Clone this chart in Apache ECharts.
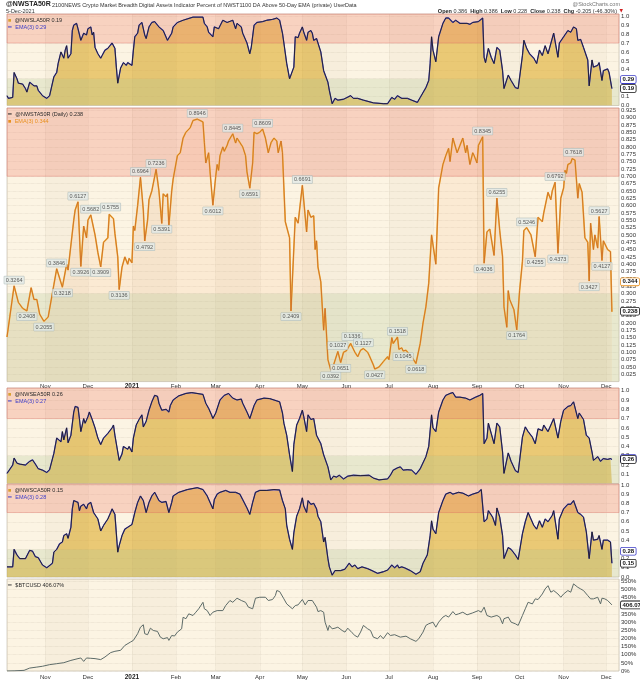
<!DOCTYPE html>
<html><head><meta charset="utf-8">
<script src="https://cdn.jsdelivr.net/npm/echarts@6/dist/echarts.min.js"></script>
<style>html,body{margin:0;padding:0;background:#fff}#c{width:640px;height:681px}</style>
</head><body><div id="c"></div>
<script>
// ---------------- DATA ----------------
const MONTHS = ['Jan','Feb','Mar','Apr','May','Jun','Jul','Aug','Sep','Oct','Nov','Dec'];
const X_MIN = '2020-10-05', X_MAX = '2021-12-10';
const SHADED_MONTHS = [['2020-11-01','2020-12-01'],['2021-01-01','2021-02-01'],['2021-03-01','2021-04-01'],['2021-05-01','2021-06-01'],['2021-07-01','2021-08-01'],['2021-09-01','2021-10-01'],['2021-11-01','2021-12-01']];

// @NWSLA50R
const la50 = [['2020-10-05',0.11],['2020-10-06',0.08],['2020-10-09',0.09],['2020-10-10',0.37],['2020-10-12',0.30],['2020-10-13',0.25],['2020-10-16',0.24],['2020-10-18',0.19],['2020-10-19',0.15],['2020-10-21',0.26],['2020-10-22',0.28],['2020-10-24',0.22],['2020-10-26',0.22],['2020-10-27',0.17],['2020-10-30',0.11],['2020-11-02',0.08],['2020-11-04',0.11],['2020-11-07',0.32],['2020-11-09',0.37],['2020-11-10',0.47],['2020-11-12',0.60],['2020-11-14',0.53],['2020-11-15',0.62],['2020-11-16',0.67],['2020-11-17',0.53],['2020-11-19',0.58],['2020-11-20',0.84],['2020-11-21',0.90],['2020-11-23',0.92],['2020-11-24',0.86],['2020-11-26',0.73],['2020-11-27',0.77],['2020-11-28',0.81],['2020-11-30',0.79],['2020-12-01',0.86],['2020-12-03',0.88],['2020-12-04',0.79],['2020-12-05',0.82],['2020-12-06',0.65],['2020-12-08',0.58],['2020-12-10',0.53],['2020-12-11',0.56],['2020-12-13',0.62],['2020-12-15',0.64],['2020-12-18',0.70],['2020-12-20',0.64],['2020-12-21',0.43],['2020-12-22',0.25],['2020-12-24',0.42],['2020-12-26',0.48],['2020-12-28',0.45],['2020-12-29',0.48],['2021-01-01',0.45],['2021-01-02',0.62],['2021-01-03',0.77],['2021-01-05',0.81],['2021-01-06',0.90],['2021-01-08',0.93],['2021-01-10',0.79],['2021-01-11',0.75],['2021-01-13',0.88],['2021-01-15',0.93],['2021-01-17',0.94],['2021-01-20',0.88],['2021-01-23',0.84],['2021-01-26',0.73],['2021-01-27',0.71],['2021-01-29',0.81],['2021-01-30',0.88],['2021-02-02',0.93],['2021-02-06',0.955],['2021-02-09',0.97],['2021-02-13',0.99],['2021-02-20',0.99],['2021-02-21',0.92],['2021-02-23',0.88],['2021-02-24',0.82],['2021-02-27',0.77],['2021-02-28',0.88],['2021-03-01',0.90],['2021-03-03',0.86],['2021-03-06',0.955],['2021-03-09',0.93],['2021-03-13',0.955],['2021-03-15',0.86],['2021-03-16',0.92],['2021-03-19',0.88],['2021-03-20',0.81],['2021-03-23',0.70],['2021-03-25',0.58],['2021-03-26',0.65],['2021-03-28',0.90],['2021-03-30',0.93],['2021-04-03',0.94],['2021-04-06',0.955],['2021-04-10',0.965],['2021-04-13',0.98],['2021-04-15',0.955],['2021-04-17',0.81],['2021-04-18',0.70],['2021-04-20',0.47],['2021-04-22',0.30],['2021-04-23',0.28],['2021-04-25',0.43],['2021-04-26',0.77],['2021-04-28',0.76],['2021-04-29',0.81],['2021-05-01',0.88],['2021-05-02',0.82],['2021-05-04',0.73],['2021-05-05',0.82],['2021-05-07',0.84],['2021-05-08',0.81],['2021-05-09',0.73],['2021-05-11',0.75],['2021-05-12',0.70],['2021-05-14',0.60],['2021-05-16',0.39],['2021-05-19',0.26],['2021-05-20',0.17],['2021-05-22',0.02],['2021-05-24',0.08],['2021-05-26',0.06],['2021-05-30',0.07],['2021-06-04',0.11],['2021-06-06',0.08],['2021-06-09',0.08],['2021-06-13',0.06],['2021-06-20',0.03],['2021-06-27',0.02],['2021-06-30',0.02],['2021-07-03',0.09],['2021-07-05',0.07],['2021-07-07',0.11],['2021-07-10',0.08],['2021-07-14',0.08],['2021-07-17',0.06],['2021-07-21',0.035],['2021-07-23',0.09],['2021-07-27',0.20],['2021-07-29',0.28],['2021-07-30',0.47],['2021-07-31',0.77],['2021-08-01',0.62],['2021-08-03',0.49],['2021-08-05',0.77],['2021-08-08',0.92],['2021-08-10',0.98],['2021-08-12',0.98],['2021-08-15',0.93],['2021-08-17',0.955],['2021-08-20',0.92],['2021-08-25',0.92],['2021-08-27',0.91],['2021-08-29',0.93],['2021-09-02',0.94],['2021-09-05',0.98],['2021-09-06',0.54],['2021-09-07',0.48],['2021-09-09',0.64],['2021-09-11',0.54],['2021-09-13',0.47],['2021-09-15',0.65],['2021-09-17',0.62],['2021-09-19',0.39],['2021-09-20',0.19],['2021-09-23',0.34],['2021-09-25',0.28],['2021-09-28',0.20],['2021-09-30',0.19],['2021-10-03',0.56],['2021-10-04',0.73],['2021-10-06',0.64],['2021-10-08',0.58],['2021-10-11',0.53],['2021-10-13',0.47],['2021-10-15',0.62],['2021-10-17',0.56],['2021-10-19',0.67],['2021-10-21',0.58],['2021-10-25',0.81],['2021-10-28',0.54],['2021-10-29',0.70],['2021-11-01',0.77],['2021-11-04',0.84],['2021-11-06',0.82],['2021-11-08',0.88],['2021-11-10',0.86],['2021-11-11',0.73],['2021-11-13',0.74],['2021-11-15',0.65],['2021-11-18',0.51],['2021-11-19',0.22],['2021-11-21',0.51],['2021-11-22',0.43],['2021-11-25',0.45],['2021-11-26',0.48],['2021-11-28',0.28],['2021-11-29',0.39],['2021-12-02',0.41],['2021-12-03',0.37],['2021-12-04',0.38],['2021-12-05',0.19]];

// @NWSTA50R (main)
const ta50 = [['2020-10-05',0.152],['2020-10-10',0.3264],['2020-10-13',0.27],['2020-10-16',0.25],['2020-10-19',0.2408],['2020-10-22',0.32],['2020-10-24',0.28],['2020-10-26',0.28],['2020-10-28',0.23],['2020-10-31',0.2055],['2020-11-03',0.22],['2020-11-07',0.33],['2020-11-09',0.3846],['2020-11-13',0.3218],['2020-11-16',0.40],['2020-11-17',0.38],['2020-11-21',0.55],['2020-11-22',0.585],['2020-11-24',0.6127],['2020-11-26',0.3926],['2020-11-28',0.53],['2020-11-30',0.49],['2020-12-01',0.55],['2020-12-03',0.5682],['2020-12-06',0.50],['2020-12-08',0.44],['2020-12-10',0.3909],['2020-12-12',0.475],['2020-12-15',0.49],['2020-12-16',0.57],['2020-12-17',0.5755],['2020-12-19',0.555],['2020-12-20',0.505],['2020-12-22',0.425],['2020-12-23',0.3136],['2020-12-25',0.39],['2020-12-27',0.425],['2020-12-29',0.40],['2020-12-30',0.42],['2021-01-01',0.405],['2021-01-02',0.53],['2021-01-03',0.515],['2021-01-05',0.60],['2021-01-07',0.6964],['2021-01-09',0.585],['2021-01-10',0.4792],['2021-01-12',0.55],['2021-01-13',0.62],['2021-01-15',0.65],['2021-01-18',0.7236],['2021-01-20',0.65],['2021-01-22',0.5391],['2021-01-23',0.64],['2021-01-24',0.645],['2021-01-25',0.63],['2021-01-26',0.64],['2021-01-27',0.53],['2021-01-29',0.65],['2021-01-30',0.69],['2021-02-02',0.77],['2021-02-04',0.78],['2021-02-06',0.83],['2021-02-08',0.85],['2021-02-09',0.845],['2021-02-11',0.865],['2021-02-13',0.89],['2021-02-16',0.8946],['2021-02-18',0.89],['2021-02-20',0.885],['2021-02-21',0.815],['2021-02-22',0.745],['2021-02-24',0.78],['2021-02-25',0.715],['2021-02-27',0.6012],['2021-03-01',0.70],['2021-03-02',0.74],['2021-03-03',0.72],['2021-03-04',0.77],['2021-03-06',0.80],['2021-03-07',0.785],['2021-03-09',0.805],['2021-03-10',0.82],['2021-03-11',0.815],['2021-03-13',0.8445],['2021-03-15',0.813],['2021-03-16',0.83],['2021-03-18',0.815],['2021-03-20',0.80],['2021-03-22',0.77],['2021-03-23',0.715],['2021-03-25',0.6591],['2021-03-27',0.745],['2021-03-28',0.85],['2021-03-30',0.845],['2021-04-01',0.85],['2021-04-03',0.8609],['2021-04-05',0.83],['2021-04-06',0.825],['2021-04-07',0.78],['2021-04-09',0.815],['2021-04-11',0.83],['2021-04-13',0.82],['2021-04-14',0.78],['2021-04-16',0.82],['2021-04-17',0.78],['2021-04-18',0.66],['2021-04-19',0.545],['2021-04-20',0.54],['2021-04-22',0.49],['2021-04-23',0.2409],['2021-04-26',0.56],['2021-04-28',0.54],['2021-05-01',0.6691],['2021-05-04',0.51],['2021-05-05',0.585],['2021-05-07',0.56],['2021-05-09',0.565],['2021-05-10',0.45],['2021-05-11',0.48],['2021-05-12',0.39],['2021-05-14',0.34],['2021-05-16',0.175],['2021-05-17',0.25],['2021-05-19',0.075],['2021-05-21',0.0392],['2021-05-23',0.057],['2021-05-26',0.1027],['2021-05-28',0.0651],['2021-05-30',0.10],['2021-06-01',0.105],['2021-06-04',0.13],['2021-06-05',0.1336],['2021-06-07',0.10],['2021-06-09',0.085],['2021-06-11',0.107],['2021-06-13',0.1127],['2021-06-16',0.10],['2021-06-17',0.09],['2021-06-18',0.095],['2021-06-20',0.057],['2021-06-21',0.0427],['2021-06-24',0.05],['2021-06-27',0.068],['2021-06-30',0.085],['2021-07-01',0.075],['2021-07-03',0.15],['2021-07-04',0.13],['2021-07-07',0.1518],['2021-07-08',0.11],['2021-07-10',0.115],['2021-07-11',0.1045],['2021-07-13',0.107],['2021-07-15',0.095],['2021-07-17',0.085],['2021-07-20',0.0618],['2021-07-23',0.13],['2021-07-25',0.20],['2021-07-27',0.255],['2021-07-29',0.335],['2021-07-31',0.50],['2021-08-03',0.40],['2021-08-05',0.66],['2021-08-08',0.74],['2021-08-10',0.77],['2021-08-12',0.795],['2021-08-13',0.75],['2021-08-15',0.83],['2021-08-16',0.83],['2021-08-18',0.78],['2021-08-20',0.805],['2021-08-22',0.83],['2021-08-24',0.78],['2021-08-25',0.805],['2021-08-27',0.74],['2021-08-29',0.78],['2021-08-30',0.77],['2021-09-01',0.745],['2021-09-02',0.805],['2021-09-03',0.81],['2021-09-05',0.8345],['2021-09-06',0.4036],['2021-09-08',0.51],['2021-09-10',0.52],['2021-09-13',0.43],['2021-09-15',0.6255],['2021-09-17',0.515],['2021-09-19',0.425],['2021-09-20',0.255],['2021-09-22',0.185],['2021-09-23',0.31],['2021-09-24',0.28],['2021-09-27',0.245],['2021-09-29',0.1764],['2021-10-01',0.31],['2021-10-03',0.41],['2021-10-04',0.515],['2021-10-05',0.51],['2021-10-06',0.5246],['2021-10-09',0.50],['2021-10-12',0.4255],['2021-10-14',0.56],['2021-10-17',0.545],['2021-10-18',0.575],['2021-10-21',0.645],['2021-10-23',0.62],['2021-10-24',0.65],['2021-10-26',0.6792],['2021-10-28',0.4373],['2021-10-30',0.625],['2021-11-01',0.66],['2021-11-02',0.72],['2021-11-03',0.71],['2021-11-04',0.74],['2021-11-06',0.745],['2021-11-07',0.76],['2021-11-08',0.7618],['2021-11-09',0.755],['2021-11-11',0.625],['2021-11-12',0.675],['2021-11-14',0.645],['2021-11-15',0.65],['2021-11-16',0.49],['2021-11-18',0.475],['2021-11-19',0.3427],['2021-11-20',0.54],['2021-11-22',0.45],['2021-11-23',0.50],['2021-11-25',0.455],['2021-11-26',0.5627],['2021-11-28',0.4127],['2021-11-29',0.48],['2021-12-02',0.45],['2021-12-03',0.445],['2021-12-04',0.443],['2021-12-05',0.238]];

const taPeaks = [['2020-10-10',0.3264],['2020-11-09',0.3846],['2020-11-24',0.6127],['2020-12-03',0.5682],['2020-12-17',0.5755],['2021-01-07',0.6964],['2021-01-18',0.7236],['2021-02-16',0.8946],['2021-03-13',0.8445],['2021-04-03',0.8609],['2021-05-01',0.6691],['2021-05-26',0.1027],['2021-06-05',0.1336],['2021-06-13',0.1127],['2021-07-07',0.1518],['2021-09-05',0.8345],['2021-09-15',0.6255],['2021-10-06',0.5246],['2021-10-26',0.6792],['2021-11-08',0.7618],['2021-11-26',0.5627]];
const taTroughs = [['2020-10-19',0.2408],['2020-10-31',0.2055],['2020-11-13',0.3218],['2020-11-26',0.3926],['2020-12-10',0.3909],['2020-12-23',0.3136],['2021-01-10',0.4792],['2021-01-22',0.5391],['2021-02-27',0.6012],['2021-03-25',0.6591],['2021-04-23',0.2409],['2021-05-21',0.0392],['2021-05-28',0.0651],['2021-06-21',0.0427],['2021-07-11',0.1045],['2021-07-20',0.0618],['2021-09-06',0.4036],['2021-09-29',0.1764],['2021-10-12',0.4255],['2021-10-28',0.4373],['2021-11-19',0.3427],['2021-11-28',0.4127]];

// @NWSEA50R
const ea50 = [['2020-10-05',0.11],['2020-10-06',0.09],['2020-10-09',0.20],['2020-10-10',0.275],['2020-10-12',0.22],['2020-10-14',0.21],['2020-10-18',0.20],['2020-10-19',0.18],['2020-10-21',0.24],['2020-10-23',0.255],['2020-10-25',0.21],['2020-10-27',0.16],['2020-10-30',0.145],['2020-11-02',0.12],['2020-11-04',0.15],['2020-11-07',0.325],['2020-11-08',0.33],['2020-11-09',0.49],['2020-11-12',0.45],['2020-11-13',0.56],['2020-11-14',0.47],['2020-11-16',0.60],['2020-11-17',0.44],['2020-11-19',0.52],['2020-11-21',0.77],['2020-11-22',0.83],['2020-11-24',0.82],['2020-11-25',0.70],['2020-11-26',0.56],['2020-11-28',0.70],['2020-11-29',0.65],['2020-12-01',0.72],['2020-12-02',0.77],['2020-12-04',0.69],['2020-12-06',0.60],['2020-12-08',0.49],['2020-12-10',0.42],['2020-12-12',0.49],['2020-12-15',0.54],['2020-12-18',0.60],['2020-12-19',0.63],['2020-12-20',0.52],['2020-12-22',0.34],['2020-12-23',0.25],['2020-12-25',0.32],['2020-12-26',0.40],['2020-12-29',0.37],['2020-12-30',0.40],['2021-01-01',0.34],['2021-01-02',0.49],['2021-01-04',0.63],['2021-01-06',0.69],['2021-01-08',0.74],['2021-01-09',0.61],['2021-01-11',0.67],['2021-01-13',0.79],['2021-01-15',0.88],['2021-01-17',0.95],['2021-01-19',0.94],['2021-01-20',0.865],['2021-01-22',0.79],['2021-01-25',0.80],['2021-01-27',0.77],['2021-01-28',0.84],['2021-01-30',0.90],['2021-02-03',0.945],['2021-02-08',0.97],['2021-02-12',0.98],['2021-02-20',0.96],['2021-02-22',0.865],['2021-02-24',0.81],['2021-02-26',0.74],['2021-02-27',0.70],['2021-03-01',0.76],['2021-03-02',0.78],['2021-03-04',0.90],['2021-03-07',0.95],['2021-03-10',0.97],['2021-03-13',0.92],['2021-03-16',0.90],['2021-03-19',0.91],['2021-03-20',0.865],['2021-03-23',0.77],['2021-03-25',0.70],['2021-03-28',0.84],['2021-03-30',0.90],['2021-04-04',0.92],['2021-04-08',0.915],['2021-04-13',0.89],['2021-04-15',0.88],['2021-04-17',0.76],['2021-04-18',0.65],['2021-04-20',0.52],['2021-04-22',0.31],['2021-04-24',0.13],['2021-04-25',0.42],['2021-04-27',0.63],['2021-04-29',0.70],['2021-05-01',0.79],['2021-05-02',0.72],['2021-05-04',0.56],['2021-05-05',0.74],['2021-05-07',0.69],['2021-05-09',0.70],['2021-05-10',0.61],['2021-05-11',0.52],['2021-05-14',0.43],['2021-05-16',0.31],['2021-05-17',0.30],['2021-05-19',0.18],['2021-05-20',0.11],['2021-05-21',0.04],['2021-05-23',0.08],['2021-05-25',0.07],['2021-05-27',0.09],['2021-05-30',0.05],['2021-06-02',0.08],['2021-06-06',0.09],['2021-06-11',0.085],['2021-06-17',0.09],['2021-06-20',0.06],['2021-06-24',0.04],['2021-06-30',0.05],['2021-07-02',0.09],['2021-07-04',0.145],['2021-07-07',0.17],['2021-07-09',0.18],['2021-07-11',0.145],['2021-07-14',0.15],['2021-07-17',0.145],['2021-07-20',0.10],['2021-07-23',0.16],['2021-07-27',0.29],['2021-07-29',0.40],['2021-07-31',0.74],['2021-08-01',0.60],['2021-08-03',0.56],['2021-08-05',0.77],['2021-08-08',0.90],['2021-08-10',0.95],['2021-08-13',0.97],['2021-08-15',0.98],['2021-08-17',0.93],['2021-08-20',0.93],['2021-08-24',0.92],['2021-08-27',0.90],['2021-08-31',0.93],['2021-09-03',0.95],['2021-09-05',0.97],['2021-09-06',0.43],['2021-09-08',0.49],['2021-09-09',0.65],['2021-09-11',0.54],['2021-09-13',0.43],['2021-09-15',0.65],['2021-09-17',0.61],['2021-09-19',0.34],['2021-09-20',0.11],['2021-09-23',0.33],['2021-09-25',0.24],['2021-09-28',0.14],['2021-09-30',0.12],['2021-10-03',0.50],['2021-10-05',0.61],['2021-10-07',0.56],['2021-10-10',0.50],['2021-10-12',0.43],['2021-10-14',0.59],['2021-10-17',0.57],['2021-10-18',0.63],['2021-10-21',0.56],['2021-10-25',0.70],['2021-10-28',0.49],['2021-10-30',0.67],['2021-11-01',0.79],['2021-11-04',0.83],['2021-11-06',0.84],['2021-11-08',0.88],['2021-11-11',0.70],['2021-11-12',0.76],['2021-11-15',0.69],['2021-11-17',0.52],['2021-11-19',0.49],['2021-11-21',0.34],['2021-11-22',0.25],['2021-11-25',0.29],['2021-11-27',0.24],['2021-11-29',0.27],['2021-12-02',0.26],['2021-12-04',0.27],['2021-12-05',0.26]];

// @NWSCA50R
const ca50 = [['2020-10-05',0.11],['2020-10-09',0.11],['2020-10-10',0.30],['2020-10-12',0.24],['2020-10-14',0.20],['2020-10-18',0.20],['2020-10-19',0.18],['2020-10-21',0.29],['2020-10-23',0.28],['2020-10-25',0.22],['2020-10-27',0.21],['2020-10-30',0.13],['2020-11-02',0.10],['2020-11-06',0.15],['2020-11-07',0.27],['2020-11-09',0.30],['2020-11-11',0.36],['2020-11-13',0.38],['2020-11-14',0.45],['2020-11-16',0.47],['2020-11-17',0.42],['2020-11-19',0.54],['2020-11-20',0.74],['2020-11-21',0.83],['2020-11-24',0.81],['2020-11-25',0.72],['2020-11-26',0.77],['2020-11-28',0.79],['2020-11-30',0.74],['2020-12-01',0.79],['2020-12-03',0.81],['2020-12-05',0.70],['2020-12-08',0.63],['2020-12-10',0.50],['2020-12-12',0.56],['2020-12-15',0.63],['2020-12-17',0.70],['2020-12-18',0.74],['2020-12-20',0.68],['2020-12-22',0.27],['2020-12-23',0.34],['2020-12-25',0.45],['2020-12-27',0.52],['2020-12-29',0.54],['2021-01-01',0.57],['2021-01-03',0.70],['2021-01-05',0.81],['2021-01-07',0.88],['2021-01-09',0.83],['2021-01-11',0.70],['2021-01-13',0.81],['2021-01-15',0.88],['2021-01-17',0.92],['2021-01-20',0.83],['2021-01-22',0.81],['2021-01-25',0.82],['2021-01-27',0.70],['2021-01-29',0.81],['2021-01-30',0.88],['2021-02-03',0.92],['2021-02-09',0.95],['2021-02-16',0.97],['2021-02-20',0.95],['2021-02-23',0.88],['2021-02-25',0.81],['2021-02-27',0.74],['2021-02-28',0.84],['2021-03-02',0.90],['2021-03-04',0.92],['2021-03-08',0.94],['2021-03-11',0.92],['2021-03-15',0.92],['2021-03-18',0.90],['2021-03-20',0.84],['2021-03-23',0.75],['2021-03-25',0.68],['2021-03-27',0.81],['2021-03-29',0.92],['2021-04-01',0.94],['2021-04-06',0.94],['2021-04-11',0.95],['2021-04-15',0.945],['2021-04-17',0.83],['2021-04-19',0.74],['2021-04-20',0.56],['2021-04-22',0.41],['2021-04-24',0.30],['2021-04-25',0.48],['2021-04-27',0.66],['2021-04-29',0.74],['2021-05-01',0.86],['2021-05-02',0.77],['2021-05-04',0.70],['2021-05-05',0.83],['2021-05-07',0.79],['2021-05-09',0.80],['2021-05-11',0.74],['2021-05-12',0.66],['2021-05-14',0.60],['2021-05-16',0.38],['2021-05-17',0.43],['2021-05-19',0.20],['2021-05-20',0.11],['2021-05-22',0.02],['2021-05-24',0.07],['2021-05-28',0.07],['2021-05-31',0.085],['2021-06-03',0.15],['2021-06-05',0.11],['2021-06-07',0.13],['2021-06-09',0.09],['2021-06-12',0.11],['2021-06-16',0.09],['2021-06-19',0.07],['2021-06-23',0.04],['2021-06-27',0.057],['2021-06-30',0.075],['2021-07-03',0.13],['2021-07-05',0.10],['2021-07-07',0.13],['2021-07-08',0.10],['2021-07-10',0.11],['2021-07-12',0.10],['2021-07-16',0.07],['2021-07-20',0.03],['2021-07-21',0.015],['2021-07-23',0.057],['2021-07-25',0.15],['2021-07-28',0.24],['2021-07-30',0.45],['2021-07-31',0.61],['2021-08-01',0.52],['2021-08-03',0.47],['2021-08-05',0.70],['2021-08-08',0.83],['2021-08-10',0.90],['2021-08-13',0.92],['2021-08-15',0.90],['2021-08-19',0.92],['2021-08-22',0.91],['2021-08-26',0.88],['2021-08-29',0.90],['2021-09-02',0.92],['2021-09-04',0.95],['2021-09-05',0.95],['2021-09-06',0.60],['2021-09-08',0.63],['2021-09-09',0.72],['2021-09-12',0.65],['2021-09-14',0.56],['2021-09-15',0.75],['2021-09-17',0.65],['2021-09-19',0.45],['2021-09-20',0.20],['2021-09-23',0.32],['2021-09-25',0.30],['2021-09-28',0.24],['2021-09-30',0.19],['2021-10-03',0.47],['2021-10-05',0.60],['2021-10-07',0.70],['2021-10-09',0.63],['2021-10-11',0.56],['2021-10-13',0.52],['2021-10-15',0.61],['2021-10-17',0.54],['2021-10-19',0.63],['2021-10-21',0.60],['2021-10-24',0.67],['2021-10-25',0.72],['2021-10-28',0.41],['2021-10-29',0.63],['2021-11-01',0.74],['2021-11-04',0.79],['2021-11-06',0.79],['2021-11-08',0.83],['2021-11-11',0.70],['2021-11-13',0.68],['2021-11-15',0.65],['2021-11-17',0.49],['2021-11-19',0.20],['2021-11-21',0.49],['2021-11-22',0.40],['2021-11-25',0.41],['2021-11-26',0.45],['2021-11-28',0.30],['2021-11-29',0.40],['2021-12-02',0.40],['2021-12-03',0.38],['2021-12-04',0.38],['2021-12-05',0.15]];

// $BTCUSD (% change)
const btc = [['2020-10-05',0],['2020-10-10',1],['2020-10-17',4],['2020-10-21',18],['2020-10-26',24],['2020-10-30',29],['2020-11-04',39],['2020-11-09',45],['2020-11-14',51],['2020-11-19',65],['2020-11-24',76],['2020-11-26',80],['2020-11-28',59],['2020-11-30',80],['2020-12-03',78],['2020-12-06',76],['2020-12-10',70],['2020-12-13',86],['2020-12-17',113],['2020-12-20',121],['2020-12-24',127],['2020-12-27',157],['2020-12-31',178],['2021-01-02',188],['2021-01-05',229],['2021-01-07',269],['2021-01-09',284],['2021-01-10',229],['2021-01-12',223],['2021-01-14',263],['2021-01-16',249],['2021-01-19',243],['2021-01-21',208],['2021-01-23',198],['2021-01-26',205],['2021-01-27',188],['2021-01-29',218],['2021-01-31',215],['2021-02-02',239],['2021-02-05',259],['2021-02-06',330],['2021-02-08',321],['2021-02-10',351],['2021-02-13',341],['2021-02-15',361],['2021-02-17',382],['2021-02-20',422],['2021-02-21',382],['2021-02-23',371],['2021-02-25',341],['2021-02-27',361],['2021-03-02',371],['2021-03-06',371],['2021-03-08',402],['2021-03-11',433],['2021-03-13',422],['2021-03-16',447],['2021-03-19',433],['2021-03-22',422],['2021-03-24',392],['2021-03-27',382],['2021-03-29',447],['2021-04-01',453],['2021-04-05',453],['2021-04-07',433],['2021-04-10',439],['2021-04-12',463],['2021-04-13',494],['2021-04-15',488],['2021-04-18',443],['2021-04-20',412],['2021-04-24',382],['2021-04-26',402],['2021-04-28',406],['2021-05-01',439],['2021-05-03',406],['2021-05-05',433],['2021-05-08',433],['2021-05-09',422],['2021-05-11',392],['2021-05-12',365],['2021-05-14',371],['2021-05-16',361],['2021-05-17',300],['2021-05-19',249],['2021-05-20',280],['2021-05-22',259],['2021-05-24',263],['2021-05-26',269],['2021-05-29',249],['2021-05-31',239],['2021-06-02',263],['2021-06-05',235],['2021-06-07',218],['2021-06-09',208],['2021-06-11',239],['2021-06-13',280],['2021-06-16',259],['2021-06-18',249],['2021-06-20',208],['2021-06-23',198],['2021-06-25',218],['2021-06-27',198],['2021-06-30',235],['2021-07-02',218],['2021-07-05',223],['2021-07-09',208],['2021-07-13',214],['2021-07-16',198],['2021-07-20',182],['2021-07-22',198],['2021-07-25',239],['2021-07-27',280],['2021-07-29',290],['2021-08-01',300],['2021-08-03',269],['2021-08-05',300],['2021-08-08',331],['2021-08-10',341],['2021-08-12',331],['2021-08-15',365],['2021-08-17',345],['2021-08-19',351],['2021-08-22',361],['2021-08-25',345],['2021-08-29',357],['2021-09-02',371],['2021-09-04',361],['2021-09-06',392],['2021-09-08',341],['2021-09-11',331],['2021-09-15',341],['2021-09-17',331],['2021-09-19',290],['2021-09-20',321],['2021-09-23',331],['2021-09-25',300],['2021-09-28',290],['2021-09-30',280],['2021-10-03',341],['2021-10-05',382],['2021-10-07',422],['2021-10-10',412],['2021-10-12',443],['2021-10-14',439],['2021-10-17',473],['2021-10-19',504],['2021-10-21',524],['2021-10-23',484],['2021-10-25',494],['2021-10-28',473],['2021-10-30',453],['2021-11-01',473],['2021-11-04',494],['2021-11-06',484],['2021-11-08',535],['2021-11-11',514],['2021-11-13',504],['2021-11-15',494],['2021-11-18',463],['2021-11-20',443],['2021-11-22',443],['2021-11-25',453],['2021-11-27',412],['2021-11-28',447],['2021-11-30',443],['2021-12-02',433],['2021-12-05',406.07]];

// last values / EMA(3) readings shown in legends and tags
const LA_LAST = 0.19, LA_EMA = 0.29;
const TA_LAST = 0.238, TA_EMA = 0.344;
const EA_LAST = 0.26, EA_EMA = 0.27;
const CA_LAST = 0.15, CA_EMA = 0.28;
const BTC_LAST = 406.07;

// ---------------- CHART ----------------
const FONT = 'Liberation Sans, Arial, sans-serif';
const RED = 'rgba(238,118,100,0.27)';
const RED_EDGE = 'rgba(226,110,100,0.6)';
const GREEN = 'rgba(172,198,146,0.26)';
const SHADE = 'rgba(140,110,60,0.045)';
const BG = '#fcf4e3';

const grids = [
  {top:14, height:91.5},
  {top:108, height:273.6},
  {top:388, height:95.6},
  {top:484, height:93},
  {top:579, height:92}
].map(g => Object.assign({left:7, right:21, show:true, backgroundColor:BG, borderColor:'#bdb6a6', borderWidth:0.6}, g));

function xAxis(i, showLabels, margin) {
  return {
    type:'time', gridIndex:i, min:X_MIN, max:X_MAX,
    minInterval: 28*86400000, maxInterval: 31*86400000, splitNumber: 14,
    axisLine:{show:false}, axisTick:{show:false},
    splitLine:{show:true, lineStyle:{color:'#ddd4c2', type:'dotted', width:0.6}},
    axisLabel:{show:showLabels, margin:margin, fontSize:6, color:'#333', fontFamily:FONT,
      showMinLabel:false, showMaxLabel:false,
      formatter:(v)=>{const d=new Date(v); const m=d.getMonth(); return m===0 ? '{y|'+d.getFullYear()+'}' : MONTHS[m];},
      rich:{y:{fontWeight:'bold', fontSize:6.5, color:'#222', fontFamily:FONT}}}
  };
}
function yAxis(i, max, interval, fmt, showMin) {
  return {
    type:'value', gridIndex:i, position:'right', min:0, max:max, interval:interval,
    axisLine:{show:false}, axisTick:{show:false},
    splitLine:{show:true, lineStyle:{color:'#ddd4c2', type:'dotted', width:0.6}},
    axisLabel:{margin:2, fontSize:6, color:'#333', fontFamily:FONT, formatter:fmt, showMinLabel:showMin, showMaxLabel:false}
  };
}

function bandAreas(top, withBands) {
  const arr = SHADED_MONTHS.map(m => [{xAxis:m[0], itemStyle:{color:SHADE, borderWidth:0}}, {xAxis:m[1]}]);
  if (withBands) {
    arr.push([{yAxis:0.7, itemStyle:{color:RED, borderColor:RED_EDGE, borderWidth:0.6}}, {yAxis:top}]);
    arr.push([{yAxis:0, itemStyle:{color:GREEN, borderWidth:0}}, {yAxis:0.3}]);
  }
  return {silent:true, z:3, data:arr};
}

function tag(value, color, text) {
  return {yAxis:value, label:{show:true, position:'end', distance:2, formatter:text,
    fontSize:6, fontWeight:'bold', fontFamily:FONT, color:'#111', backgroundColor:'#fff',
    borderColor:color, borderWidth:0.8, borderRadius:1, padding:[1,1.5,0,1.5], opacity:1}};
}
function tags(list) {
  return {silent:true, symbol:['none','none'], lineStyle:{color:'rgba(0,0,0,0)', width:0.1}, z:7,
    data: list};
}

function smallPanel(i, data, top, last, ema) {
  return [
    {type:'line', xAxisIndex:i, yAxisIndex:i, data:data, symbol:'none', silent:true, z:2,
     lineStyle:{width:0}, areaStyle:{color:'rgba(222,172,44,0.86)', origin:'start'}},
    {type:'line', xAxisIndex:i, yAxisIndex:i, data:data, symbol:'none', silent:true, z:4,
     lineStyle:{color:'#4a4ad2', width:1.3}, markArea:bandAreas(top, true),
     markLine:tags([tag(ema,'#3a3ac8',String(ema)), tag(last,'#111',String(last))])},
    {type:'line', xAxisIndex:i, yAxisIndex:i, data:data, symbol:'none', silent:true, z:5,
     lineStyle:{color:'#1d1a16', width:0.85}}
  ];
}

const valLabel = (pos) => ({show:true, position:pos, distance:1.5, fontSize:5.5, fontFamily:FONT, color:'#333',
  formatter:(p)=>p.value[1].toFixed(4), backgroundColor:'rgba(226,234,232,0.95)', borderColor:'#a8b5b3',
  borderWidth:0.5, padding:[1,1.5,0.5,1.5]});

const series = [].concat(
  smallPanel(0, la50, 1.025, LA_LAST, LA_EMA),
  [
    {type:'line', xAxisIndex:1, yAxisIndex:1, data:ta50, symbol:'none', silent:true, z:2,
     lineStyle:{width:0}, areaStyle:{color:'rgba(244,158,96,0.17)', origin:'start'},
     markArea:bandAreas(0.9325, true)},
    {type:'line', xAxisIndex:1, yAxisIndex:1, data:ta50, symbol:'none', silent:true, z:4,
     lineStyle:{color:'#f2b53c', width:1.6},
     markLine:tags([tag(TA_EMA,'#e8901e',TA_EMA.toFixed(3)), tag(TA_LAST,'#111',TA_LAST.toFixed(3))])},
    {type:'line', xAxisIndex:1, yAxisIndex:1, data:ta50, symbol:'none', silent:true, z:5,
     lineStyle:{color:'#cd6d28', width:0.9}},
    {type:'scatter', xAxisIndex:1, yAxisIndex:1, data:taPeaks, symbol:'circle', symbolSize:1, itemStyle:{color:'rgba(0,0,0,0)'}, silent:true, z:6, label:valLabel('top'), labelLayout:{hideOverlap:false}},
    {type:'scatter', xAxisIndex:1, yAxisIndex:1, data:taTroughs, symbol:'circle', symbolSize:1, itemStyle:{color:'rgba(0,0,0,0)'}, silent:true, z:6, label:valLabel('bottom'), labelLayout:{hideOverlap:false}}
  ],
  smallPanel(2, ea50, 1.029, EA_LAST, EA_EMA),
  smallPanel(3, ca50, 1.01, CA_LAST, CA_EMA),
  [
    {type:'line', xAxisIndex:4, yAxisIndex:4, data:btc, symbol:'none', silent:true, z:5,
     lineStyle:{color:'#5d6b68', width:1},
     markArea:bandAreas(565, false),
     markLine:tags([tag(BTC_LAST,'#111',BTC_LAST.toFixed(2)+'%')])}
  ]
);

function legendText(top, l1, c1, icon1, l2, c2, icon2) {
  const els = [{type:'text', left:8, top:top, z:20, style:{text:'{i|'+icon1+'} {t|'+l1+'}',
    rich:{i:{fill:c1, fontSize:5.5, fontFamily:FONT}, t:{fill:'#2a2a2a', fontSize:5.5, fontFamily:FONT}}}}];
  if (l2) els.push({type:'text', left:8, top:top+6.5, z:20, style:{text:'{i|'+icon2+'} {t|'+l2+'}',
    rich:{i:{fill:c2, fontSize:5.5, fontFamily:FONT}, t:{fill:c2, fontSize:5.5, fontFamily:FONT}}}});
  return els;
}

const graphics = [
  {type:'text', left:6, top:1, style:{text:'@NWSTA50R', fontSize:7, fontWeight:'bold', fill:'#222', fontFamily:FONT}},
  {type:'text', left:52, top:2, style:{text:'2100NEWS Crypto Market Breadth Digital Assets Indicator Percent of NWST1100 DA Above 50-Day EMA (private) UserData', fontSize:5.5, fill:'#333', fontFamily:FONT}},
  {type:'text', left:6, top:8, style:{text:'5-Dec-2021', fontSize:5.5, fill:'#333', fontFamily:FONT}},
  {type:'text', right:20, top:1, style:{text:'@StockCharts.com', fontSize:5.5, fill:'#777', fontFamily:FONT}},
  {type:'text', right:23, top:8, style:{text:'{b|Open} 0.386  {b|High} 0.386  {b|Low} 0.228  {b|Close} 0.238  {b|Chg} -0.205 (-46.30%)',
    fontSize:5.5, fill:'#333', fontFamily:FONT, rich:{b:{fontWeight:'bold', fontSize:5.5, fill:'#222', fontFamily:FONT}}}},
  {type:'text', right:17, top:8.3, style:{text:'▼', fontSize:4.5, fill:'#d02020', fontFamily:'DejaVu Sans'}}
].concat(
  legendText(14.5, '@NWSLA50R '+LA_LAST, '#d9a030', '■', 'EMA(3) '+LA_EMA, '#3a3ac8', '━'),
  legendText(108.5, '@NWSTA50R (Daily) '+TA_LAST, '#222', '━', 'EMA(3) '+TA_EMA, '#e8901e', '■'),
  legendText(388.5, '@NWSEA50R '+EA_LAST, '#d9a030', '■', 'EMA(3) '+EA_EMA, '#3a3ac8', '━'),
  legendText(484.5, '@NWSCA50R '+CA_LAST, '#d9a030', '■', 'EMA(3) '+CA_EMA, '#3a3ac8', '━'),
  legendText(579.5, '$BTCUSD '+BTC_LAST.toFixed(2)+'%', '#444', '━')
);

const option = {
  animation:false,
  backgroundColor:'#ffffff',
  textStyle:{fontFamily:FONT},
  grid: grids,
  xAxis: [xAxis(0,false,1), xAxis(1,true,1.5), xAxis(2,false,1), xAxis(3,false,1), xAxis(4,true,3)],
  yAxis: [
    yAxis(0, 1.025, 0.1, v=>v.toFixed(1), true),
    yAxis(1, 0.9325, 0.025, v=>v.toFixed(3), false),
    yAxis(2, 1.029, 0.1, v=>v.toFixed(1), false),
    yAxis(3, 1.01, 0.1, v=>v.toFixed(1), true),
    yAxis(4, 565, 50, v=>v+'%', true)
  ],
  series: series,
  graphic: graphics
};

const chart = echarts.init(document.getElementById('c'), null, {renderer:'canvas'});
chart.setOption(option);
</script>
</body></html>
